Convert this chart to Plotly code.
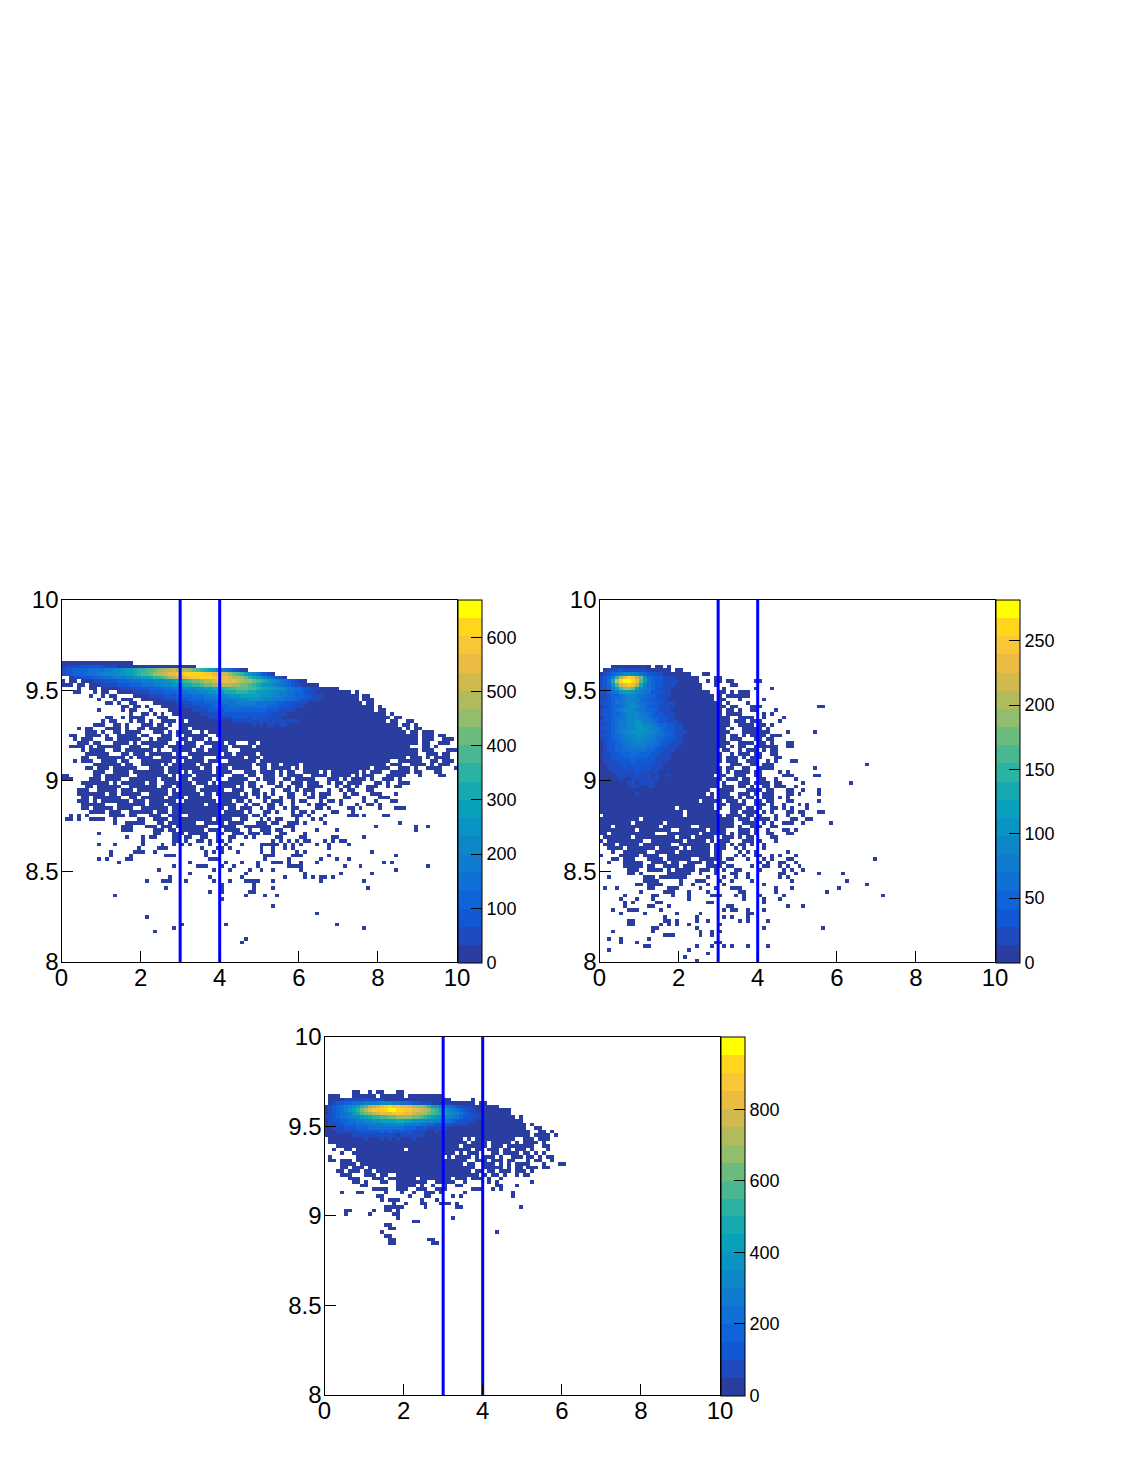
"""Three ROOT-style 2D histograms with palette bars and two blue cut lines."""
import plotly.graph_objects as go

FIG_W, FIG_H = 1139, 1474
LEVELS = "abcdefghijklmnopqrstuvwxyz"

# 20 palette bands, bottom to top
band_colors = ["#2a3ea2", "#1e4bc0", "#1257d4", "#0f64da", "#1070d6", "#107cd0", "#0c88c8", "#0994c4",
               "#09a0bc", "#16aab0", "#2bb2a2", "#48b792", "#6cbb7e", "#91bd6c", "#b2ba5e", "#d0b94e",
               "#eabd42", "#f8c636", "#ffd61c", "#ffff00"]

x_ticks = [0, 2, 4, 6, 8, 10]
y_ticks = [8, 8.5, 9, 9.5, 10]
y_tick_text = ["8", "8.5", "9", "9.5", "10"]
cut_lines = [3, 4]

p1_zmax = 670
p1_ticks = [0, 100, 200, 300, 400, 500, 600]
p2_zmax = 282
p2_ticks = [0, 50, 100, 150, 200, 250]
p3_zmax = 1004
p3_ticks = [0, 200, 400, 600, 800]

# (y bin, first x bin, band letter per cell, "." = empty)
p1_cells = [
    (82, 0, "aaaaaaaaaaaaaaaaaa"),
    (81, 0, "abbbbcccccbbbbaaaaaaaaaaaaaaaaaaaa"),
    (80, 0, "bccddddeeeeffgghiijkkllmnnoopooonmlkjihgfedcbaa"),
    (79, 0, "bccdddeeeffggghhiijkllmnoopqqrrsssssrrqqppnmlkihgfdcba"),
    (78, 2, "abbcccddeeefffgghhiijkklmnoppqrrrsssrrqqpoonmkjihfedcba"),
    (77, 0, "a.aa"),
    (77, 5, "aaabbbcccdddeeefffggghhijkklmmnoopqqqqqponnmlkjihgfedcbaa"),
    (76, 0, "aaa.aa"),
    (76, 7, "aaabbbbcccdddeeeffggghhijjkklmmnnooonnmmlkjihhgfeedcbbaaaa"),
    (75, 4, "a..aa"),
    (75, 10, "aaaaabbbbcccdddeeefffggghhiijjkkllmmmllkjjiihhgfeedccbbaaaaa"),
    (74, 3, "aa...a.aa"),
    (74, 14, "aaaabbbbccccdddeeeffggghhiijjjkkkjjiihhggffeeddcbbaaaaaaaaa.a"),
    (73, 7, "a..a.aa"),
    (73, 18, "aaaabbbbcccddddeeefffggghhhiiiiihhhggffeeddccbbbaaaaaaaaa.aa"),
    (72, 9, "a...a.aaa"),
    (72, 20, "aaaaabbbbcccddddeeeeffffggghhhgggfffeeddccbbbaaaaaaaaaa.aaa"),
    (71, 11, "aa.a..aa"),
    (71, 23, "aaaaaabbbbcccdddeeeeefffffeeeeeddcccbbbaaaaaaaaaaaaaa.aa"),
    (70, 15, "aa.aa.a"),
    (70, 25, "aaaaaabbbbcccddddeeeeeeeeeedddcccbbbaaaaaaaaaaaaaaaaaa.a"),
    (69, 9, "a.....a.aa...a"),
    (69, 27, "aaaaaabbbbccccdddddddddddcccbbbbaaaaaaaaaaaaaaaaaaaa.aa"),
    (68, 17, "a..aa.a.a"),
    (68, 28, "aaaaaaabbbbbcccccccccccccbbbbaaaaaaaaaaaaaaaaaaaaaaaaa.a"),
    (67, 11, "aa..a.aaaa...aaa"),
    (67, 30, "aaaaaaabbbbbbccccbccbcbbbbaaaaaaaaaaaaaaaaaaaaaaaaaaa.aa"),
    (66, 10, "a.aa...a.aa.a..aaaa.a"),
    (66, 32, "aaaaaaaaaaabbbbbbbbbbbbbbbbbaaaaaaaaaaaaaaaaaaaaaa.aa..aa"),
    (65, 8, "aaa..aa.a...aaa.aa.a..aaaa"),
    (65, 34, "aaaaaaaaaaaaaabababbabbaaaaaaaaaaaaaaaaaaaaaaaaaaaa.aa.a"),
    (64, 4, "a.aa...aaaa.a..aa.aaaaa...aa.aaaa"),
    (64, 36, "aaaaaaaaaaaaaaaaaaaaaaaaaaaaaaaaaaaaaaaaaaaaaaaaaa.a.aa"),
    (63, 6, "aaa.a..aa.aaaa...aaa.a.aaaa..a.aa"),
    (63, 38, "aaaaaaaaaaaaaaaaaaaaaaaaaaaaaaaaaaaaaaaaaaaaaaaaa.aa.aaa"),
    (62, 2, "aa..aaaa.a..aaaaa.aa...aaa.a.aaaaaa..aa.a"),
    (62, 41, "aaaaaaaaaaaaaaaaaaaaaaaaaaaaaaaaaaaaaaaaaaaaaaaaa.aaa.aa"),
    (61, 3, "a.aaa...aa.aaaaaa..a.aaaa..aa.aaa.a..aaaa"),
    (61, 43, "aaaaaaaaaaaaaaaaaaaaaaaaaaaaaaaaaaaaaaaaaaaaaaa.aaa..aaa"),
    (60, 4, "aaa.aa...aaaa.a.aaaaaaa..a.aaa..aaaaa.aa...aa.aaaaaaaaaaaaaaaaaaaaaaaaaaaaaaaaaaaaaaaa.aa..aaa"),
    (59, 2, "aaaa.a.aaaaaa..aaa..aaaa.aaaaaaa.a..aaaa.aaaaa.aaaaaaaaaaaaaaaaaaaaaaaaaaaaaaaaaaaaaaa...aa.a"),
    (58, 5, "a.aaaa..aa.aaaaaaa.a...aaaaa.aa.aaaaa...aaaaaaaaaaaaaaaaaaaaaaaaaaaaaaaaaaaaaaaaaaaaa.aaa...aaa"),
    (57, 6, "aaaaaa...aa.aaa.aaaaaa.a..aaaaaaaa.aa.aaaaa.aaaaaaaaaaaaaaaaaaaaaaaaaaaaaaaaaaaaaaaa..aaa.aa..a"),
    (56, 5, "aa..aaaaaaa.a.aaaa..aaaaaaa.aaa...aaaaaaa.aaa.aaaaaaaaaaaaaaaaaaaaaaaaaaaaaaaaaaaa.aaa.a.aaaa"),
    (55, 3, "a.aaa..aaaa.aa...aaaaaaaa.a.aaaaa.aaa..aaaaaaa.aaaaaaaaaaaaaaaaaaaaaaaaaaaaaaaaa..aaaaaa..aa.aaa"),
    (54, 8, "aaaaaaa.aa..aaaaa.a.aaaaaa.aaa..aaaaaaaa.aaa.aa.aaaa.aaaaaaaaaaaaaaaaaaaaa.aaa..aaaa.a.aaa"),
    (53, 6, "aa.aaa.aaaaaa...aaaa.aaaaaaaa.aa.aaa.aaaaa..aa.aaaaa.a.aaaaaaaaaaaaaaaaa.aaaa..aaa.a..aaaa...a"),
    (52, 8, "aaa..aaaa.aaaaaaaa.aaa.a.aaaaa.aaaa...aaa.aaaa.a.aa..aaaa.a.aaaaaaa.a.aaa..aaaaa.aa...aa"),
    (51, 0, "aa......aa.aaaaaa..aaaaaaaa.a.aaa.aaaaaaa..aaa.aa..aaa.a.aaaa..aaaa.aaaaa.a.aaa...aaaaa...a....aa"),
    (50, 0, "aaa....aaa.aaaa..aaaaaaa.aaaa.aa.aaaaa.a..aaaaa..a.aaa..aa.aaaaa...aaa.a.aaaa.a..aaa.a"),
    (49, 5, "aaaaaaa.a.aaaaaa.aa..aaaaaaa.aaa.a.aaaaaa.aa...aa.a..aaa.aaa..a.aa.aaaa...aa.a..aaa"),
    (48, 6, "aa.aaaaaa..aaaaaaa.aaa.aaaaa..aaaaaaaa.a.aa.a...aa.a.aa.aaaa...a.aa.a..aaa..a.aa"),
    (47, 4, "aaa..aaaaa.aaa.aaaaaaaa.a.aaaa.aaaaaa..aaa..aa...a..aa.a.aaa...a..a.aa...aa"),
    (46, 4, "aaaaaaa.aa.aaaaa..aaaaa.aaaaaaa.aa.aaaaaa.a.aa.a.a...aa..a.a.aaa...a.aa...aaa...a"),
    (45, 5, "aa.aaaaaaa..aa.aaaaaa.aaaa.aaaaaa..aaaaaaa..a.aa..a.aa...aa.aa....aa...a...aaa"),
    (44, 4, "aaa.a.aaaaaaa.aaa.aaaaaaa..aaaaaaaa.aaa.aa.a...a.aaa..a.aa...a.aa.a.....a..a...aa"),
    (43, 5, "aaaaaa...aaaaaaa.aaaa.aaaaaaaaa.aaaaaaa..a.aa..aa.a..a...a.aaa...a...a..aa.a"),
    (42, 5, "aa.aaaaa.aaaa..aaaaaaa.aaaaaaaaaaaaa.aa.aaa..a.aa..a.aa....aa.a....aa.a....a...aaa"),
    (41, 7, "aaaa.aaa..aaaaaa.aaa.aaaaaaaaaaaa.aaaaa.a...aa.a...a.aa.a....aa...a"),
    (40, 2, "a.a.a.....aaaa.aa...aaa..aaa..aaaaaaaaaaaaaaa.aa.a......aaa.a...a.....aaa.a....aa"),
    (39, 1, "aa.a..aaaa..a.....aa..aaaa.aaaaaaaaaa.aaaa..aa...a.a.aa...a...a.a"),
    (38, 13, "a..aaaaa...aa.aaaaaaa..aaaaa.aaaa...aaa.aa..aaa.a....a..................a"),
    (37, 15, "aaa...aaa.aaa.aaaaaaaa...aaaa..aaaaaaa...aaa....................a.........a..a"),
    (36, 15, "aaa.....aaa.aa.aaaaaa.aaa.aaaa..a..aaa.aa..a.....a....a...................a"),
    (35, 9, "a.............aa...aaa.aaaaa..aa..aaa.aaa.aa..aa....a"),
    (34, 16, "a...a.aa....aa.aa..aa..a..aa..a.a.....aa....aa......aa......a"),
    (33, 20, "a.......aa.a..aa.a.aa.a..........a.a.a.a.aa...a.a.aa"),
    (32, 9, "a...a......a....a..a.a.a....a...a...a....aaaaa.a.a.a...a..a....a"),
    (31, 19, "a....aaa........a...aa.a.......a..a..a.a........a"),
    (30, 12, "a.....aaa..a............a.a.a...a.....a..a.....a.a................a"),
    (29, 12, "a....a........aaa.......a..............aaa....aaa......a................a"),
    (28, 9, "a.a....aa...................aaa...........a.....a.......a...a..a"),
    (27, 14, "a.................a........a...a...a...aaa.a..a...a................a.a"),
    (26, 28, "a.....aaa...a..a.....a.......aaaa..........a...a................a"),
    (25, 24, "a.............a...a....a..a..a......a.......................a"),
    (24, 32, "a.............a..............a........a.......a"),
    (23, 27, "a.........a.......a..........a....a.a.aa.a"),
    (22, 21, "a...aaa...a......a...a...aaaa...a...........a..........a"),
    (21, 40, "a.......a"),
    (20, 26, "a.............a.......a....a.......................a"),
    (19, 37, "a..a......aa"),
    (18, 13, "a................................a....a..a"),
    (17, 40, "a"),
    (15, 53, "a"),
    (13, 64, "a"),
    (12, 21, "a"),
    (10, 30, "a..........a...........................a"),
    (9, 28, "a...............................................a"),
    (8, 23, "a"),
    (6, 46, "a"),
    (5, 45, "a"),
]

p2_cells = [
    (81, 3, "aaaaaaaaaa.aa.a"),
    (80, 1, "abbbcbbbbbbaaaaaa.aa"),
    (79, 0, "abcdefgggfedccbbaaaaaaa...aa"),
    (78, 0, "bcdgkoqsromhedccbbbaaaaaa....aa"),
    (77, 0, "bcejpsttsqliedccbbbbaaaaa..a.aa.aa.....aa"),
    (76, 0, "bcdhlpqrqnjfedccbbbaaaaaaa...a...aa"),
    (75, 0, "bcdfilnnmigfedcbbbaaaaaaaa.....a.......a...a"),
    (74, 0, "bbdefhiihgfeecccbbaaaaaaaaaa..aa.a.aaa"),
    (73, 0, "bbcddefggfeeddcbbbaaaaaaaaaaa.a.aaaaaa"),
    (72, 0, "bbcdeefgffeddccbbaaaaaaaaaaaa.aa...a.....a"),
    (71, 0, "bccdeefggfeeddccbbbaaaaaaaaaaaa.a....a"),
    (70, 0, "abcddefgggfedccbbbbaaaaaaaaaaaaa.aa...aaa"),
    (70, 55, "aa"),
    (69, 0, "bccdefgggfeeddcbbbaaaaaaaaaaaaa.aa.a..aa....a"),
    (68, 0, "bccddefgggfeedccbbbaaaaaaaaaaaa.aaaa.....a.a"),
    (67, 0, "accdeefgggffeddccbbaaaaaaaaaaaaaa..aaaa..a....a"),
    (66, 0, "bccdeffgghgffedccbbbaaaaaaaaaaaaa.aaa.aaa....a"),
    (65, 0, "bbcdeffgghhggfeddccbbaaaaaaaaaaaa..aaaa.aa.a"),
    (64, 0, "bccdeffgghhhgffedccbbaaaaaaaaaaa.a..aaaaa.a"),
    (63, 0, "bbcdefgghhhhggfeddcbbbaaaaaaaaaaa...aaaaaaa....a"),
    (63, 54, "a"),
    (62, 0, "bccdeefgghhggfeeddcbbaaaaaaaaaaa.aa.a.aaaa.aaa"),
    (61, 0, "bbcddeffggggffeddccbbaaaaaaaaaaa.aaa...aa.aa"),
    (60, 0, "abccdeeffggffeedccbbbaaaaaaaaaaaa..aaaa.aa.a...aa"),
    (59, 0, "abccddeeffffeedccbbbaaaaaaaaaaaa.a.aa..aaaaaa..aa"),
    (58, 0, "abccddeeeeeeddccbbbaaaaaaaaaaa.aa..a.aaa.a.aa"),
    (57, 0, "abbccdddeedddccbbbaaaaaaaaaaaaa..a.aaa.aa..aa"),
    (56, 0, "abbcccddddddccbbbbaaaaaaaaaaaaa.aaa.a.aaa...aa"),
    (55, 0, "abbbccccdcccccbbbaaaaaaaaaaaaaa.aaa..aaa..a.a...aa"),
    (54, 0, "aabbbccccccccbbbaaaaaaaaaaaaaa...aaa..aa.aaa"),
    (54, 67, "a"),
    (53, 0, "aabbbbcbcccbcbbbaaaaaaaaaaaaaaa.aa..aa..aaaa..........a"),
    (52, 0, "aaabbbbbbcbbbbbaaaaaaaaaaaaaaaa.a.aaaa.aa....a.a"),
    (51, 0, "aaaabbbbbbbbbabaabaaaaaaaaaaa.aa..aaa..aa.....aaa.....aa"),
    (50, 0, "aaaaabaabbbbbbbaaaaaaaaaaaaaaaa.aaa.aa..aa..a....a"),
    (49, 0, "aaaaaaabbabbbbaaaaaaaaaaaaaaaa.a...aaa.aaaa.aa.....a"),
    (49, 63, "a"),
    (48, 0, "aaaaaaaabbaabbaaaaaaaaaaaaaaaa.aaa.aa.a..aa.aaa..a"),
    (47, 0, "aaaaaaaaaaaaaaaaaaaaaaaaaaaa..aaaa...aaaa.aa...aa..a...a"),
    (46, 0, "aaaaaaaaabaaaaaaaaaaaaaaaaa.a.aaa..aaa.a.aaa...aa.a....a"),
    (45, 0, "aaaaaaaaaaaaaaaaaaaaaaaaaaaaa.aaaa.a.aa..aaa.a.a"),
    (44, 0, "aaaaaaaaaaaaaaaaaaaaaaaaa.aaaaa.aaa.a..aa.aa...aa......a"),
    (43, 0, "aaaaaaaaaaaaaaaaaaaaaaaaaaaaa.aa.aaaa..aaa.a..a...a.a"),
    (42, 0, "aaaaaaaaaaaaaaaaaaa.aaaaaaaaa.a..aaa.aa.a..aa.a.a...a"),
    (41, 0, "aaaaaaaaaaaaaaaaaaaaa.aaaaaaaa...aa.aaaa.a.a...aa.aa...aa"),
    (40, 0, ".aaaaaaaaaaaaaaaaaaaa.aaaaaaaaa.aaaa.aa.a...a..a...a"),
    (39, 0, "aaaaaaaaaa.aaaaaaaaaaaaaaaaaaaaaaa.aaa.aaaa.a...aa..aa"),
    (38, 0, "aaaaaaaa.aaaaaaa.aaaaaaaaaaaaaaaaa..aaaa.a.a..aaa..a......a"),
    (37, 0, "aaa.aaaaaaaaaaa.aaaaaaa..aaaaaaaaa.a..aaa..aa"),
    (36, 0, "aaaaaaaaa.aaaaaaaa..aaaaaaa.aaaa...aaa.a..a...aa.a"),
    (35, 0, "aa.aaaaaaaaaaa...aaaaaaaa.aaaaaa.a.aaa.a..aa...aa"),
    (34, 1, "aaaaaaa.aaaaaaaaaa.aaa.aaaaa..aaa.a.aa....aa"),
    (33, 0, "a.aaaaaaaaa..aaaaaaaa.aaaaa.a.aaa...aaa.a...a"),
    (32, 1, "aaa.aaaaa.aaaaaaa..aaaaaaaa.aaa.a.aa.a..a"),
    (31, 2, "aaaa.aaaaaaa.aaaaa.a.aaaaa.aaa..a.a....a"),
    (30, 3, "a..aaaaaa..aaaaa.aaaaaaaa.aa....a.a.a.......a"),
    (29, 0, "a....aaaaa.aaaa..aaaaaaaaaaa.aa...a.a..aa..a.a...a"),
    (28, 3, "aa.aaa...aaaa.aaaaaa..aaaaaa.aa...a...a.a...aa....................a"),
    (27, 2, "a...aaaaa..aaaa.aa..aaaa.aa.aa........a.a..aa..a"),
    (26, 6, "aaaaa.aa..aaaa.aaa...aaaa.aa....a..aa..a.a..a"),
    (25, 7, "aaa..aaaa.a.aaaaa.aaa.a.a..aa....a.....a.a..a"),
    (24, 7, "aa.a......aaaaaa..a...a...aa..a.......aa..a.....a.....a"),
    (23, 2, "a........aaa.aaaaaaa.....a...a..a..a.......a.a"),
    (22, 11, "aaaa.....a...aaa...a..a....a.........a.............a"),
    (21, 9, "aa.aaaa....a..a...a...a.........a.........................a"),
    (20, 1, "a..a.......aa...aaa.....a...a...aaa........a...a...........a"),
    (19, 10, "a.....aaa...a....a.......aa.......a............a"),
    (18, 6, "a......aa...a...a.....aaa...a.a...a.....a........................a"),
    (17, 5, "a...a...a........a.............a....a...a"),
    (16, 6, "a.a.....aa...........aa............a"),
    (15, 6, "a.....aa...a..............aa.............a...a"),
    (14, 3, "a...aaa.....a...............a.aa..a...a"),
    (13, 5, "a.....a.......a.....a...........aa"),
    (12, 16, "a.......a......a.a...a"),
    (11, 7, "aa.......aa.a....a..a.......a.a....a"),
    (10, 7, "aa......a.a.a..a.......a"),
    (9, 13, "aa.........a................a..............a"),
    (8, 3, "a.........a...........a..a.a"),
    (7, 16, "aaa......a..a"),
    (6, 2, "a..a......a"),
    (5, 5, "a...a...................aa"),
    (4, 11, "aa...........a...a..a.a...a....a"),
    (3, 2, "a...................a"),
    (2, 27, "a"),
    (1, 21, "a"),
    (0, 24, "a"),
]

p3_cells = [
    (84, 7, "aa..a.aa...aa"),
    (83, 1, "aaa...aaaaaa.aaaaaa.aaaaaaaaa"),
    (82, 1, "aaaabbbbbbbbbbaaaaaaaaaaaaaaaaa.....a"),
    (81, 1, "abccddeeeffffgggffeedccbbbaaaaaaaaaaa.aa"),
    (80, 0, "abcdefghiklnopqrsrrqqponnmkihgfedcbbbaaaaaaa"),
    (79, 0, "abcdefhikmoqrrssttssrrqqponlkihgfedcbbaaaaaaaaa"),
    (78, 0, "abcdeefhjlmnopqqqrrrqqpoonmlkjihgfedcbbaaaaaaaa"),
    (77, 0, "bbcdeefgghijkkllmmnnnnmmlkjihhggfedccbbbaaaaaaaa.a"),
    (76, 0, "abccddeeffgghhiiiijjiihhhgggffeedccbbbaaaaaaaaaaaa"),
    (75, 0, "abbccdddeeeffffgggggffffeeddccccbbbbaaaaaaaaaaaaaaa.a"),
    (74, 0, "aabbbcccdddeeeeeeeeedddcccbbbbbaaaaaaaaaaaaaaaaaaaa..aa"),
    (73, 0, "aaabbbbbccccccdcdcccccbbbbaabaaaaaaaaaaaaaaaaaaaaaaa..aa.a"),
    (72, 0, "aaaaaaabbbbbbbbbbbabbbbbbaaaaaaaaaaaaaaaaaaaaaaaaaaa.aaaa.a"),
    (71, 1, "aaaaaaaaabaaabababaaabaaaaaaaaaaaa.a.aaaaaaaaaa..aaa.aaa"),
    (70, 1, "aaaaaaaaaaaaaaaaaaaaaaaaaaaaaaaaaaa.aaaa.aaaaa.a.aaaa.a"),
    (69, 3, "aaaaaaaaaaaaaaaaaaaaaaaaaaaaaaa.aaaaaa.aaa.aaaaaaa..aa"),
    (68, 2, "a..aa.aaaaaaaaaaaa.aaaaaaaaaaaaaaaa.aa.aaa.aa.aaa.a...a"),
    (67, 4, "a..aaaaaaaaaaaaaaaaaaaaaaaaaa.a.aaa...aa.aaaa.aa.a.a"),
    (66, 1, "a......aaaaaaaaaaaaaaaaaaaaaa.a.aaaa.a.aaa.a..aaa.aa.a.aa"),
    (65, 1, "aa.aaa.aaaaaaaaaaaaaaaaaaaaaaaaaaaa..aaa.aaa.aa...a.aa..a"),
    (64, 4, "aaaa.aaaaaaaaaaaaaaaaaaaaaaaaaa.aa..aaa.a.a.aaaa...a...aa"),
    (63, 4, "aa.aaa.aaaaaaaaaaaaaaaaaaaaaaaaaaa..aaaaa.a.aa.aaa.aa"),
    (63, 55, "aa"),
    (62, 3, "aa.aaa.aa.aaaaaaaaaaaaaaaaaaaaaaaa.aa.aa.aaa.aaa.a"),
    (61, 4, "aaa...aaa.aa..aaaaaaaaaaaaaaaaaaaaa.a.aa.a..a.aa"),
    (60, 6, "aaa...aaa.aaaaaaa.aaaaaaaa.aaa.aaa.a..a"),
    (59, 7, "aa.a...aa..aaaaaaaa..aaaaa..a.....a.a........a"),
    (58, 9, "aa.......aaaaa.a..a..a..aa........aa...a"),
    (57, 12, "aaaa..aaa..aaa..aaa......aaa..a.a"),
    (56, 4, "a...aa.....a...a..a..aaa.a.....a...........a"),
    (55, 13, "aa......a...aa.....a.a............a"),
    (54, 14, "a.aaa.....a...a"),
    (53, 17, "a..a...aa...aaa.a"),
    (52, 15, "aaaaa.....a.......aa..............a"),
    (51, 5, "aa.....a..aa.a"),
    (50, 5, "a.....a.....aa"),
    (49, 18, "a.............a"),
    (48, 22, "aa"),
    (47, 15, "aa"),
    (46, 16, "aa"),
    (45, 14, "a............................a"),
    (44, 15, "aa"),
    (43, 16, "aa........aa"),
    (42, 16, "aa.........aa"),
]


def build_grid(cells, zmax):
    z = [[None] * 100 for _ in range(100)]
    for row, start, text in cells:
        for i, ch in enumerate(text):
            if ch != "." and start + i < 100:
                z[row][start + i] = (LEVELS.index(ch) + 0.5) * zmax / len(band_colors)
    return z


def step_scale(colors):
    scale = []
    n = len(colors)
    for i, c in enumerate(colors):
        scale += [[i / n, c], [(i + 1) / n, c]]
    return scale


fig = go.Figure()
font = "Liberation Sans"
# axis suffix, cells, palette top, palette ticks, x pixels, y pixels, palette bar left
panels = [
    ("", p1_cells, p1_zmax, p1_ticks, (61.5, 457), (599.5, 962), 457),
    ("2", p2_cells, p2_zmax, p2_ticks, (599.5, 995), (599.5, 962), 995),
    ("3", p3_cells, p3_zmax, p3_ticks, (324.5, 720), (1036.5, 1395), 720),
]
for n, cells, zmax, cticks, xpx, ypx, bar_x in panels:
    fig.add_trace(go.Heatmap(
        z=build_grid(cells, zmax), x0=0.05, dx=0.1, y0=8.01, dy=0.02,
        xaxis="x" + n, yaxis="y" + n, zmin=0, zmax=zmax,
        colorscale=step_scale(band_colors), hoverongaps=False,
        colorbar=dict(
            x=bar_x / FIG_W, xanchor="left", xpad=1, ypad=0,
            y=1 - ypx[0] / FIG_H, yanchor="top",
            len=ypx[1] - ypx[0], lenmode="pixels",
            thickness=23.5, thicknessmode="pixels",
            outlinewidth=1, outlinecolor="#000000",
            tickvals=cticks, ticks="inside", ticklen=11, tickwidth=1.3, tickcolor="#000000",
            tickfont=dict(family=font, size=18, color="#000000"),
        ),
    ))
    for cut in cut_lines:
        fig.add_trace(go.Scatter(
            x=[cut, cut], y=[8, 10], mode="lines", showlegend=False, hoverinfo="skip",
            line=dict(color="#0000ff", width=3), xaxis="x" + n, yaxis="y" + n,
        ))
    axis_common = dict(
        showgrid=False, zeroline=False, showline=True, mirror=True, linecolor="#000000", linewidth=1.3,
        ticks="inside", ticklen=11, tickwidth=1.3, tickcolor="#000000",
        tickfont=dict(family=font, size=24, color="#000000"),
    )
    fig.update_layout({
        "xaxis" + n: dict(axis_common, domain=[xpx[0] / FIG_W, xpx[1] / FIG_W], range=[0, 10],
                          tickvals=x_ticks, anchor="y" + n, ticklabelstandoff=-6),
        "yaxis" + n: dict(axis_common, domain=[1 - ypx[1] / FIG_H, 1 - ypx[0] / FIG_H], range=[8, 10],
                          tickvals=y_ticks, ticktext=y_tick_text, anchor="x" + n, ticklabelstandoff=-3),
    })

fig.update_layout(
    width=FIG_W, height=FIG_H, margin=dict(l=0, r=0, t=0, b=0, autoexpand=False),
    paper_bgcolor="#ffffff", plot_bgcolor="#ffffff", showlegend=False,
)
fig.write_html("out.html", config=dict(displayModeBar=False),
               post_script="document.body.style.margin='0';document.body.style.overflow='hidden';")
